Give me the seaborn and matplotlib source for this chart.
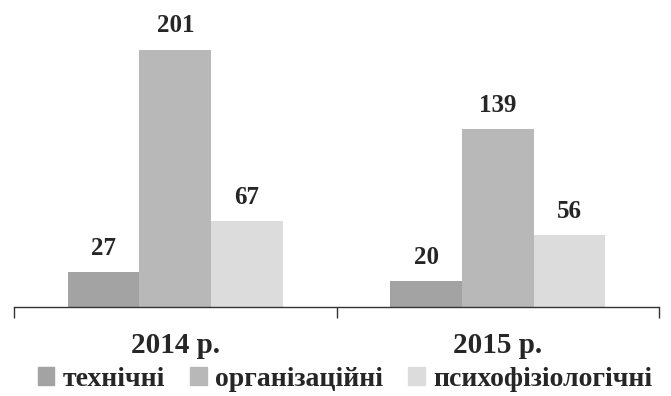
import matplotlib
matplotlib.use("Agg")
import matplotlib.pyplot as plt
import seaborn as sns
import pandas as pd

# Values
years = ["2014 р.", "2015 р."]
groups = ["технічні", "організаційні", "психофізіологічні"]
tech = [27, 20]
org = [201, 139]
psych = [67, 56]

colors = ["#a3a3a3", "#b8b8b8", "#dcdcdc"]

df = pd.DataFrame({
    "year": years * 3,
    "group": [groups[0]] * 2 + [groups[1]] * 2 + [groups[2]] * 2,
    "value": tech + org + psych,
})

sns.set_style("white")
plt.rcParams["font.family"] = ["Liberation Serif", "DejaVu Serif"]
plt.rcParams["font.weight"] = "bold"

fig = plt.figure(figsize=(6.71, 3.96), dpi=100)
ax = fig.add_axes([0.021, 0.225, 0.961, 0.775])

sns.barplot(data=df, x="year", y="value", hue="group", hue_order=groups,
            order=years, palette=colors, width=0.667, saturation=1,
            linewidth=0, ax=ax, legend=False)

# Value labels above bars
for cont in ax.containers:
    ax.bar_label(cont, padding=9, fontsize=18, fontweight="bold")

ax.set_ylim(0, 240)
ax.set_xlim(-0.5, 1.5)
ax.set_xlabel("")
ax.set_ylabel("")
ax.set_yticks([])

for s in ["top", "left", "right"]:
    ax.spines[s].set_visible(False)
ax.spines["bottom"].set_color("#333333")
ax.spines["bottom"].set_linewidth(1.0)

ax.set_xticks([0, 1])
ax.set_xticklabels(years, fontsize=21, fontweight="bold")
ax.tick_params(axis="x", which="major", bottom=True, length=0, pad=18)
ax.set_xticks([-0.5, 0.5, 1.5], minor=True)
ax.tick_params(axis="x", which="minor", bottom=True, length=8, width=1,
               color="#333333", direction="out")

# Legend with small square handles
handles = [plt.Rectangle((0, 0), 1, 1, color=c) for c in colors]
fig.legend(handles, groups, loc="center", bbox_to_anchor=(0.514, 0.042), ncol=3,
           frameon=False, handlelength=0.6, handleheight=0.6,
           handletextpad=0.3, columnspacing=0.9, borderaxespad=0,
           prop={"weight": "bold", "size": 20})

fig.savefig("out.png", dpi=100)
